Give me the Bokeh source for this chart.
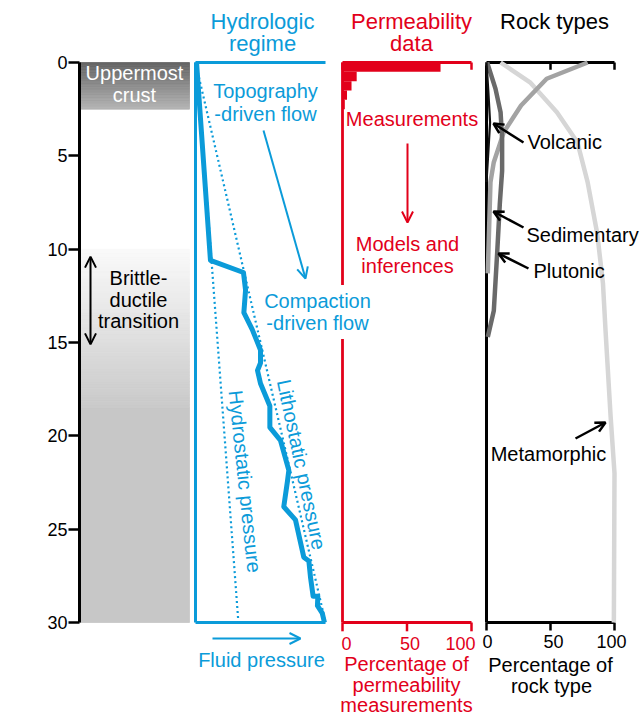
import math
from bokeh.plotting import figure
from bokeh.models import Range1d, FixedTicker, Label, Arrow, OpenHead
from bokeh.core.properties import value
from bokeh.embed import file_html
from bokeh.resources import INLINE

# ---------------- data ----------------
depth_ticks = [0, 5, 10, 15, 20, 25, 30]

crust_band_km = [0.0, 2.5]            # "Uppermost crust" shaded band
deep_shade_km = [10.0, 15.0, 18.5, 30.0]
bdt_km = [10.4, 15.1]                 # brittle-ductile transition

fluid_pressure = [0.008, 0.115, 0.369, 0.385, 0.372, 0.436, 0.5, 0.5, 0.477, 0.5,
                  0.572, 0.572, 0.654, 0.718, 0.708, 0.679, 0.769, 0.833, 0.872,
                  0.885, 0.905, 0.941, 0.938, 0.975, 0.992]
fluid_depth = [0, 10.6, 11.25, 12.2, 13.4, 14.3, 15.4, 16.1, 16.5, 17.2,
               18.4, 19.55, 20.25, 21.85, 22.4, 23.8, 24.5, 26.5, 26.7,
               27.6, 28.6, 28.6, 29.1, 29.5, 30]
lithostatic_pressure = [0.0, 1.0]
lithostatic_depth = [0, 30]
hydrostatic_pressure = [0.01, 0.33]
hydrostatic_depth = [0, 30]

perm_bin_top = [0.0, 0.5, 1.0, 1.5, 2.0]
perm_bin_bottom = [0.5, 1.0, 1.5, 2.0, 2.5]
perm_pct = [76, 11, 7, 3.5, 1.8]
perm_ticks = [0, 50, 100]

rock_ticks = [0, 50, 100]
volcanic_depth = [0, 1.5, 3.2, 4.6, 6.4]
volcanic_pct = [0, 1.4, 2.8, 1.6, 0]
plutonic_depth = [0, 1.4, 2.66, 4.09, 5.8, 7.57, 10.25, 13.3, 14.7]
plutonic_pct = [0.5, 7, 11, 12.2, 12.2, 10.4, 8.3, 5.7, 1]
sedimentary_depth = [0, 0.87, 2.3, 3.73, 5.34, 6.41, 11.3]
sedimentary_pct = [79, 47, 27, 13.5, 5.7, 3.1, 1.0]
metamorphic_depth = [0, 1.06, 2.66, 4.27, 6.41, 9.16, 11.84, 14.36, 16.1, 19.0, 22.0, 30]
metamorphic_pct = [11, 34, 55, 71, 79, 86.5, 91, 93, 94.5, 97, 100, 99.5]

# ---------------- layout / style ----------------
FONT = "Liberation Sans"
BLUE = "#0b9bd9"
RED = "#e2001a"
BLACK = "#000000"
FIG_W, FIG_H = 642, 717
FRAME_LEFT = 79
X0, X1 = FRAME_LEFT, FIG_W      # canvas columns of frame edges
BASE_SHIFT = 7.5                # measured correction for alphabetic baseline


def dk(py):
    """canvas row -> depth (km)"""
    return (py - 62) * 30.0 / 560.0


def span_range(px0, px1, v0, v1):
    k = (v1 - v0) / (px1 - px0)
    return Range1d(v0 + (X0 - px0) * k, v0 + (X1 - px0) * k)


p = figure(frame_width=FIG_W - FRAME_LEFT, frame_height=FIG_H,
           x_range=Range1d(X0, X1), y_range=Range1d(dk(FIG_H), dk(0)),
           output_backend="svg", toolbar_location=None, x_axis_location=None,
           min_border_left=FRAME_LEFT, min_border_right=0, min_border_top=0,
           min_border_bottom=0)
p.extra_x_ranges = {
    "col": span_range(79, 189, 0, 1),
    "hydro": span_range(195, 325, 0, 1),
    "perm": span_range(342, 471, 0, 100),
    "rock": span_range(486, 614, 0, 100),
}
p.grid.visible = False
p.outline_line_color = None
p.background_fill_color = "white"
p.border_fill_color = "white"

ax = p.yaxis[0]
ax.bounds = (depth_ticks[0], depth_ticks[-1])
ax.ticker = FixedTicker(ticks=depth_ticks)
ax.axis_line_width = 3
ax.axis_line_color = BLACK
ax.major_tick_line_width = 2.5
ax.major_tick_out = 11
ax.major_tick_in = 0
ax.minor_tick_line_color = None
ax.major_label_text_font = FONT
ax.major_label_text_font_size = "18px"
ax.major_label_text_color = BLACK
ax.major_label_standoff = 1

D0, D1 = depth_ticks[0], depth_ticks[-1]

# ---- left column shading ----
def hex2rgb(c):
    c = c.lstrip("#")
    return [int(c[i:i + 2], 16) for i in (0, 2, 4)]


def mix(c0, c1, t):
    a, b = hex2rgb(c0), hex2rgb(c1)
    return "#%02x%02x%02x" % tuple(int(round(a[i] + (b[i] - a[i]) * t)) for i in range(3))


def shade(d0, d1, c0, c1, n):
    tops = [d0 + (d1 - d0) * i / n for i in range(n)]
    bots = [d0 + (d1 - d0) * (i + 1) / n for i in range(n)]
    cols = [mix(c0, c1, (i + 0.5) / n) for i in range(n)]
    p.quad(left=0, right=1, top=tops, bottom=bots, fill_color=cols,
           line_color=cols, line_width=0.8, x_range_name="col")


shade(crust_band_km[0], crust_band_km[1], "#636363", "#b4b4b4", 30)
shade(deep_shade_km[0], deep_shade_km[1], "#fafafa", "#dedede", 25)
shade(deep_shade_km[1], deep_shade_km[2], "#dedede", "#c9c9c9", 20)
shade(deep_shade_km[2], deep_shade_km[3], "#c8c8c8", "#c6c6c6", 1)

# ---- hydrologic panel ----
p.segment(x0=[0, 0, 0], y0=[D0, D0, D1], x1=[0, 1, 1], y1=[D1, D0, D1],
          line_color=BLUE, line_width=3, x_range_name="hydro")
p.line(lithostatic_pressure, lithostatic_depth, line_color=BLUE, line_width=2.2,
       line_dash="2 3", x_range_name="hydro")
p.line(hydrostatic_pressure, hydrostatic_depth, line_color=BLUE, line_width=2.2,
       line_dash="2 3", x_range_name="hydro")
p.line(fluid_pressure, fluid_depth, line_color=BLUE, line_width=5,
       line_join="round", x_range_name="hydro")

# ---- permeability panel ----
TICK_KM = 8 * 30.0 / 560.0
p.segment(x0=[0, 0, 0], y0=[D0, D0, D1], x1=[0, 100, 100], y1=[D1, D0, D1],
          line_color=RED, line_width=2.8, x_range_name="perm")
p.segment(x0=perm_ticks, y0=[D0] * 3, x1=perm_ticks, y1=[D0 + TICK_KM * 0.9] * 3,
          line_color=RED, line_width=2.5, x_range_name="perm")
p.segment(x0=perm_ticks, y0=[D1] * 3, x1=perm_ticks, y1=[D1 + TICK_KM * 1.1] * 3,
          line_color=RED, line_width=2.5, x_range_name="perm")
p.quad(left=0, right=perm_pct, top=perm_bin_top, bottom=perm_bin_bottom,
       fill_color=RED, line_color=None, x_range_name="perm")

# ---- rock types panel ----
p.segment(x0=[0, 0, 0], y0=[D0, D0, D1], x1=[0, 100, 100], y1=[D1, D0, D1],
          line_color=BLACK, line_width=3, x_range_name="rock")
p.segment(x0=rock_ticks[1:], y0=[D0] * 2, x1=rock_ticks[1:], y1=[D0 + TICK_KM * 0.9] * 2,
          line_color=BLACK, line_width=2.5, x_range_name="rock")
p.segment(x0=rock_ticks, y0=[D1] * 3, x1=rock_ticks, y1=[D1 + TICK_KM] * 3,
          line_color=BLACK, line_width=2.5, x_range_name="rock")
p.line(metamorphic_pct, metamorphic_depth, line_color="#d6d6d6", line_width=4.5, x_range_name="rock")
p.line(sedimentary_pct, sedimentary_depth, line_color="#a3a3a3", line_width=4.5, x_range_name="rock")
p.line(plutonic_pct, plutonic_depth, line_color="#6a6a6a", line_width=4.5, x_range_name="rock")
p.line(volcanic_pct, volcanic_depth, line_color="#111111", line_width=2.2, x_range_name="rock")

# ---- texts ----
def txt(xs, ys, texts, color, size, align="center", baseline="alphabetic",
        angle=0.0, x_range_name="default", **kw):
    shift = BASE_SHIFT if baseline == "alphabetic" else 0.0
    p.text(x=xs, y=[dk(y - shift) for y in ys], text=texts, text_color=color,
           text_font=value(FONT), text_font_size=value(size), text_align=align,
           text_baseline=baseline, angle=angle, x_range_name=x_range_name, **kw)


txt([262, 262], [28, 50], ["Hydrologic", "regime"], BLUE, "22px")
txt([411, 411], [28, 50], ["Permeability", "data"], RED, "22px")
txt([554], [28], ["Rock types"], BLACK, "22px")

txt([134, 134], [80, 101.7], ["Uppermost", "crust"], "white", "20px")
txt([138, 138, 138], [285, 306.7, 328], ["Brittle-", "ductile", "transition"], BLACK, "20px")

txt([265, 265], [98.3, 120.5], ["Topography", "-driven flow"], BLUE, "20px")
# white mask behind the label (hides the red axis there), then the label itself
txt([317, 317], [308, 330], ["Compaction", "-driven flow"], "white", "20px",
    background_fill_color="white", padding=5)
txt([317, 317], [308, 330], ["Compaction", "-driven flow"], BLUE, "20px")
txt([261], [667], ["Fluid pressure"], BLUE, "20px")
txt([301], [464], ["Lithostatic pressure"], BLUE, "20px", baseline="middle",
    angle=-78 * math.pi / 180)
txt([244.5], [481], ["Hydrostatic pressure"], BLUE, "20px", baseline="middle",
    angle=-84 * math.pi / 180)

txt([411.5], [126], ["Measurements"], RED, "20px")
txt([407, 407], [250.7, 272.7], ["Models and", "inferences"], RED, "20px")
txt([406, 406, 406], [671, 692, 712], ["Percentage of", "permeability", "measurements"], RED, "20px")
txt(perm_ticks, [650] * 3, [str(t) for t in perm_ticks], RED, "18px",
    x_range_name="perm", x_offset=[4, 3, -11])

txt([527], [149.3], ["Volcanic"], BLACK, "20px", align="left")
txt([526], [241.5], ["Sedimentary"], BLACK, "20px", align="left")
txt([533], [277.7], ["Plutonic"], BLACK, "20px", align="left")
txt([548], [461], ["Metamorphic"], BLACK, "20px")
txt([550, 551], [671.7, 693], ["Percentage of", "rock type"], BLACK, "20px")
txt(rock_ticks, [648] * 3, [str(t) for t in rock_ticks], BLACK, "18px",
    x_range_name="rock", x_offset=[1, 3, -3])

p.add_layout(Label(x=28, y=dk(295), text="Depth  (km)", angle=math.pi / 2,
                   text_align="center", text_baseline="alphabetic",
                   text_font=FONT, text_font_size="22px", text_color=BLACK))

# ---- arrows ----
def arrow(x0, y0, x1, y1, color, width=2.0, size=11):
    head = dict(size=size, line_color=color, line_width=width)
    p.add_layout(Arrow(x_start=x0, y_start=y0, x_end=x1, y_end=y1,
                       line_color=color, line_width=width, end=OpenHead(**head)))


arrow(263, dk(130), 305, dk(278), BLUE)
arrow(212, dk(638), 300, dk(638), BLUE)
arrow(407, dk(143), 407, dk(222), RED)
p.add_layout(Arrow(x_start=90, y_start=bdt_km[0], x_end=90, y_end=bdt_km[1],
                   line_color=BLACK, line_width=2,
                   start=OpenHead(size=11, line_color=BLACK, line_width=2),
                   end=OpenHead(size=11, line_color=BLACK, line_width=2)))
arrow(523, dk(142), 493, dk(123), BLACK, 2.5, 10)
arrow(523, dk(227), 493, dk(211), BLACK, 2.5, 10)
arrow(528, dk(268), 498, dk(253), BLACK, 2.5, 10)
arrow(575, dk(438), 605, dk(422), BLACK, 2.5, 10)

open("out.html", "w").write(file_html(p, INLINE))
